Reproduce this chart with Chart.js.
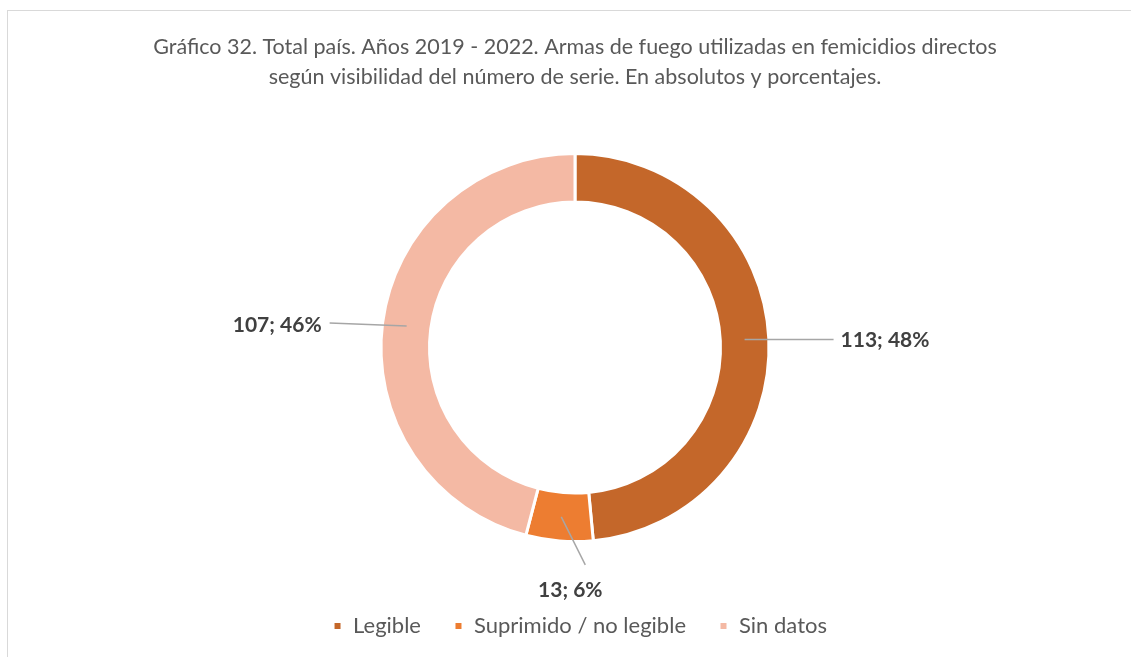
<!DOCTYPE html>
<html>
<head>
  <title>Gráfico 32</title>
  <meta charset="utf-8" />
  <style>
    html, body { margin: 0; padding: 0; background: #fff; overflow: hidden; }
    #frame {
      position: absolute; left: 7px; top: 10px; width: 1200px; height: 700px;
      border-left: 1.5px solid #d9d9d9; border-top: 1.5px solid #d9d9d9;
    }
    #wrap { position: absolute; left: 0; top: 0; width: 1131px; height: 657px; }
  </style>
</head>
<body>
  <div id="frame"></div>
  <div id="wrap"><canvas id="chart" width="1131" height="657"></canvas></div>

  <script src="https://cdn.jsdelivr.net/npm/chart.js"></script>
  <script>
    const categories = ['Legible', 'Suprimido / no legible', 'Sin datos'];
    const counts = [113, 13, 107];
    const sliceColors = ['#C4672A', '#ED7D31', '#F4B9A4'];
    const titleLines = [
      'Gráfico 32. Total país. Años 2019 - 2022. Armas de fuego utilizadas en femicidios directos',
      'según visibilidad del número de serie. En absolutos y porcentajes.'
    ];

    // leader line end, relative to the ring midpoint of each slice
    const leaderOffsets = [[89, 0], [24, 48], [-77, -3]];

    const total = counts.reduce((a, b) => a + b, 0);

    const sliceLabels = {
      id: 'sliceLabels',
      afterLayout(chart) {
        // nudge legend a bit to the right like the original
        chart.legend.left += 5;
        chart.legend.right += 5;
      },
      afterDatasetsDraw(chart) {
        const ctx = chart.ctx;
        const meta = chart.getDatasetMeta(0);
        ctx.save();
        meta.data.forEach((arc, i) => {
          const mid = (arc.startAngle + arc.endAngle) / 2;
          const r = (arc.innerRadius + arc.outerRadius) / 2;
          const sx = arc.x + Math.cos(mid) * r;
          const sy = arc.y + Math.sin(mid) * r;
          const ex = sx + leaderOffsets[i][0];
          const ey = sy + leaderOffsets[i][1];
          ctx.strokeStyle = '#A6A6A6';
          ctx.lineWidth = 1.5;
          ctx.beginPath();
          ctx.moveTo(sx, sy);
          ctx.lineTo(ex, ey);
          ctx.stroke();

          const txt = counts[i] + '; ' + Math.round(counts[i] / total * 100) + '%';
          ctx.font = 'bold 21px Lato';
          ctx.fillStyle = '#404040';
          ctx.textBaseline = 'middle';
          if (leaderOffsets[i][0] > 40) {
            ctx.textAlign = 'left';
            ctx.fillText(txt, ex + 7, ey + 1);
          } else if (leaderOffsets[i][0] < -40) {
            ctx.textAlign = 'right';
            ctx.fillText(txt, ex - 8, ey + 2);
          } else {
            ctx.textAlign = 'center';
            ctx.fillText(txt, ex - 15, ey + 25);
          }
        });
        ctx.restore();
      }
    };

    new Chart(document.getElementById('chart'), {
      type: 'doughnut',
      data: {
        labels: categories,
        datasets: [{
          data: counts,
          backgroundColor: sliceColors,
          borderColor: '#ffffff',
          borderWidth: 3,
          radius: 194,
          cutout: '75%'
        }]
      },
      options: {
        responsive: false,
        animation: false,
        layout: { padding: { top: 0, bottom: 10, left: 19, right: 0 } },
        plugins: {
          title: {
            display: true,
            text: titleLines,
            color: '#595959',
            font: { family: 'Lato', size: 21.5, weight: 'normal', lineHeight: 1.4 },
            padding: { top: 32, bottom: 21 }
          },
          legend: {
            position: 'bottom',
            labels: {
              color: '#595959',
              font: { family: 'Lato', size: 22 },
              boxWidth: 9,
              boxHeight: 9,
              padding: 33
            }
          },
          tooltip: { enabled: false }
        }
      },
      plugins: [sliceLabels]
    });
  </script>
</body>
</html>
